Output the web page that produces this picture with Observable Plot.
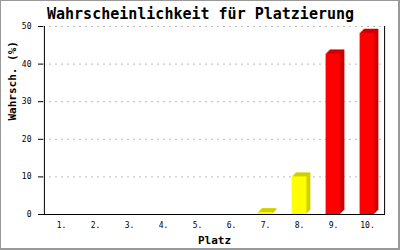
<!DOCTYPE html>
<html>
<head>
<meta charset="utf-8">
<script src="https://cdn.jsdelivr.net/npm/d3@7"></script>
<script src="https://cdn.jsdelivr.net/npm/@observablehq/plot@0.6"></script>
<style>
  html, body { margin: 0; padding: 0; background: #fff; }
  #wrap { position: relative; width: 400px; height: 250px; }
  #border { position: absolute; left: 0; top: 0; width: 400px; height: 250px; box-sizing: border-box;
            border-style: solid; border-color: #999; border-width: 1px 2px 2px 1px; pointer-events: none; }
</style>
</head>
<body>
<div id="wrap"><div id="border"></div></div>
<script>
const title = "Wahrscheinlichkeit für Platzierung";
const xLabel = "Platz";
const yLabel = "Wahrsch. (%)";
const places = ["1.", "2.", "3.", "4.", "5.", "6.", "7.", "8.", "9.", "10."];
const probs = [0, 0, 0, 0, 0, 0, 0.5, 10, 42.7, 48.2];
const yTicks = [0, 10, 20, 30, 40, 50];

const data = places.map((p, i) => ({place: p, value: probs[i]}));

const W = 400, H = 250;
const mL = 43, mR = 15, mT = 26, mB = 36;
const step = (W - mL - mR) / places.length;
const inset = (step - 15) / 2;
const mono = "DejaVu Sans Mono";

const front = d => d.value >= 25 ? "#ff0000" : "#ffff00";
const side = d => d.value >= 25 ? "#cc0000" : "#d0d000";

const sideMarks = [4, 3, 2, 1].map(k =>
  Plot.barY(data, {x: "place", y: "value", fill: side, dx: k, dy: -k, insetLeft: inset, insetRight: inset})
);

const chart = Plot.plot({
  width: W, height: H,
  marginLeft: mL, marginRight: mR, marginTop: mT, marginBottom: mB,
  style: {fontFamily: mono, fontSize: "8px", background: "white", color: "black"},
  x: {domain: places, padding: 0, label: null, tickSize: 0, tickPadding: 8},
  y: {domain: [0, 50], ticks: yTicks, label: null, tickSize: 5, tickPadding: 7},
  marks: [
    Plot.ruleY(yTicks.filter(t => t > 0), {stroke: "#bbb", strokeDasharray: "2,4"}),
    ...sideMarks,
    Plot.barY(data, {x: "place", y: "value", fill: front, insetLeft: inset, insetRight: inset}),
    Plot.ruleY([0], {stroke: "black"}),
    Plot.ruleX([places[0]], {stroke: "black", dx: -step / 2}),
    Plot.ruleX([places[places.length - 1]], {stroke: "black", dx: step / 2}),
    Plot.text([title], {frameAnchor: "top", dx: -14, dy: -8, lineAnchor: "bottom",
      fontSize: 15, fontWeight: "bold", fontFamily: mono, fill: "black"}),
    Plot.text([yLabel], {frameAnchor: "left", dx: -31, rotate: -90,
      fontSize: 11, fontWeight: "bold", fontFamily: mono, fill: "black"}),
    Plot.text([xLabel], {frameAnchor: "bottom", dy: 29, lineAnchor: "bottom",
      fontSize: 11, fontWeight: "bold", fontFamily: mono, fill: "black"})
  ]
});
document.getElementById("wrap").prepend(chart);
</script>
</body>
</html>
